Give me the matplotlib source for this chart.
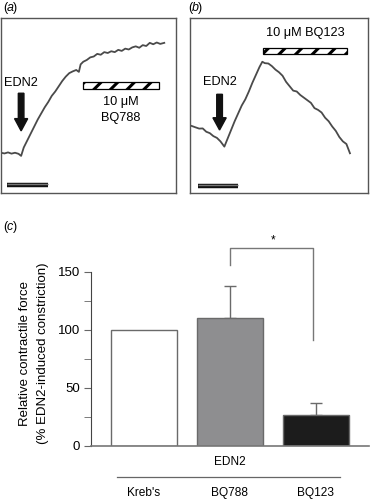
import numpy as np
import matplotlib
matplotlib.use("Agg")
import matplotlib.pyplot as plt
from matplotlib.patches import Rectangle

plt.rcParams['font.family'] = ['Liberation Sans', 'DejaVu Sans']
plt.rcParams['hatch.linewidth'] = 2.2

# trace (a): EDN2 then BQ788 (arbitrary units, box spans 0-100)
trace_a_x = [0, 2, 4, 6, 8, 10, 11.5,
             13, 15, 17, 19, 21, 23, 25, 27, 29, 31, 33, 35, 37, 39, 41, 43,
             44.5, 45.5, 47,
             49, 51, 53, 55, 57, 59, 61, 63, 65, 67, 69, 71, 73, 75, 77, 79, 81, 83, 85, 87, 89, 91,
             93.3]
trace_a_y = [23, 22.6, 23.2, 22.5, 23, 22.4, 21.2,
             26, 30, 34, 38, 42, 45.5, 49, 52, 55.5, 58, 61, 64, 66.5, 68.5, 69.5, 70.3,
             69.2, 73.5, 75,
             76, 77.5, 78, 79.5, 79, 80.5, 80, 81, 80.5, 81.8, 81.2, 82.5, 82, 83.2, 83.8, 83, 84.5, 84, 85.8, 85, 86, 85.2,
             85.8]

# trace (b): EDN2 then BQ123
trace_b_x = [0.8, 3, 5, 7, 9, 11, 13, 15, 17, 19.2,
             21, 23, 25, 27, 29, 31, 33, 35, 37, 39, 40.6,
             42, 44, 46, 48, 50, 52, 54, 56, 58, 60, 62, 64, 66, 68, 70, 72, 74, 76, 78, 80, 82, 84, 86, 88, 90]
trace_b_y = [38.3, 37.5, 36.8, 36.9, 35, 34.2, 32.5, 31.5, 29.5, 26.5,
             31, 36, 41, 45.5, 50, 53.5, 58, 63, 67.5, 72, 75,
             74.2, 74, 72.5, 70.5, 69, 67, 63.5, 61, 58.5, 58, 56, 54.5, 53, 51.5, 48.5, 47.5,
             46, 43, 41, 38, 35.5, 32, 29.5, 28, 22.7]

# panel (c)
categories = ["Kreb's", "BQ788", "BQ123"]
force = [100, 110, 26.5]
force_err = [0, 28, 10.5]
bar_colors = ['white', '#8e8e90', '#1c1c1c']

fig = plt.figure(figsize=(3.7, 5.0), dpi=100)
W, H = 370.0, 500.0


def px_axes(l, t, r, b):
    return fig.add_axes([l / W, 1 - b / H, (r - l) / W, (b - t) / H])


def trace_panel(ax, xs, ys):
    ax.plot(xs, ys, color='#4a4a4a', lw=1.3)
    ax.set_xlim(0, 100)
    ax.set_ylim(0, 100)
    ax.set_xticks([])
    ax.set_yticks([])
    for s in ax.spines.values():
        s.set_color('#555555')
        s.set_linewidth(1.0)


def hatch_bar(ax, x0, x1, y0, y1):
    ax.add_patch(Rectangle((x0, y0), x1 - x0, y1 - y0, facecolor='white',
                           edgecolor='black', hatch='//', lw=0.9))


def edn2_arrow(ax, x, ytext, ytop, ybot):
    ax.text(x, ytext, 'EDN2', ha='center', va='center', fontsize=9.2)
    ax.arrow(x, ytop, 0, ybot - ytop, width=3.2, head_width=7.5,
             head_length=7, length_includes_head=True, fc='#111111', ec='#111111')


def scale_bar(ax, x0, x1, y):
    ax.plot([x0, x1], [y, y], color='#111111', lw=3.2, solid_capstyle='butt')
    ax.plot([x0, x1], [y + 0.8, y + 0.8], color='#777777', lw=1.0, solid_capstyle='butt')


def panel_letter(x, y, letter):
    fig.text(x / W, 1 - y / H, '(', fontsize=9, va='center')
    fig.text((x + 3.5) / W, 1 - y / H, letter, fontsize=9, va='center', style='italic')
    fig.text((x + 9.8) / W, 1 - y / H, ')', fontsize=9, va='center')


# (a)
ax_a = px_axes(1, 18, 176, 193)
trace_panel(ax_a, trace_a_x, trace_a_y)
edn2_arrow(ax_a, 11.5, 63, 57, 35.5)
hatch_bar(ax_a, 46.7, 90.4, 59.6, 63.6)
ax_a.text(68.4, 52.2, '10 \u03bcM', ha='center', va='center', fontsize=9.2)
ax_a.text(68.4, 42.7, 'BQ788', ha='center', va='center', fontsize=9.2)
scale_bar(ax_a, 3.6, 27, 4.6)
panel_letter(3, 8, 'a')

# (b)
ax_b = px_axes(190.3, 18, 367.7, 193)
trace_panel(ax_b, trace_b_x, trace_b_y)
edn2_arrow(ax_b, 16.5, 63.6, 56.4, 36)
hatch_bar(ax_b, 41.2, 88.2, 79.3, 83)
ax_b.text(64.7, 91.2, '10 \u03bcM BQ123', ha='center', va='center', fontsize=9.2)
scale_bar(ax_b, 4.2, 26.7, 4)
panel_letter(188, 8, 'b')

# (c)
ax_c = px_axes(91, 237.2, 369, 446)
xpos = np.arange(len(categories))
ax_c.bar(xpos, force, width=0.767, color=bar_colors, edgecolor='#6a6a6a', linewidth=1.0, zorder=2)
for xi, v, e in zip(xpos, force, force_err):
    if e > 0:
        ax_c.errorbar(xi, v, yerr=[[0], [e]], fmt='none', ecolor='#6a6a6a',
                      elinewidth=1.0, capsize=4, capthick=1.0, zorder=1)
ax_c.set_xlim(-0.616, 2.616)
ax_c.set_ylim(0, 180)
ax_c.set_yticks([0, 50, 100, 150])
ax_c.set_yticks([25, 75, 125], minor=True)
ax_c.tick_params(axis='y', which='both', direction='out', color='#666666',
                 labelsize=9.5, length=5, pad=3)
ax_c.set_xticks([])
for s in ['top', 'right']:
    ax_c.spines[s].set_visible(False)
ax_c.spines['left'].set_bounds(0, 150)
ax_c.spines['left'].set_color('#444444')
ax_c.spines['bottom'].set_color('#777777')
ax_c.spines['bottom'].set_linewidth(1.2)

# significance bracket
ax_c.plot([1, 1, 1.97, 1.97], [156, 171, 171, 91], color='#777777', lw=1.0, clip_on=False)
ax_c.text(1.5, 177.5, '*', ha='center', va='center', fontsize=8.5)

panel_letter(3, 227, 'c')

fig.text(25 / W, 1 - 353 / H, 'Relative contractile force', rotation=90,
         ha='center', va='center', fontsize=9.5)
fig.text(43 / W, 1 - 353 / H, '(% EDN2-induced constriction)', rotation=90,
         ha='center', va='center', fontsize=9.5)

fig.text(230 / W, 1 - 462 / H, 'EDN2', ha='center', va='center', fontsize=8.6)
fig.add_artist(plt.Line2D([117 / W, 340 / W], [1 - 477 / H, 1 - 477 / H], color='#666666', lw=0.9))
for xi, lab in zip(xpos, categories):
    px = 144 + 86 * xi
    fig.text(px / W, 1 - 487 / H, lab, ha='center', va='top', fontsize=8.6)

fig.savefig('out.png', dpi=100)
